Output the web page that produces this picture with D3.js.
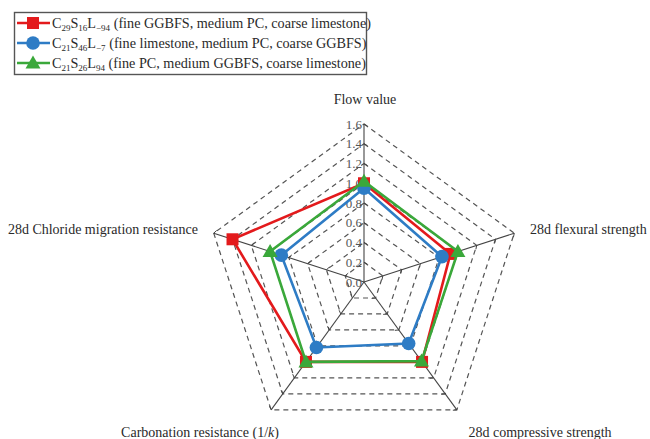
<!DOCTYPE html>
<html>
<head>
<meta charset="utf-8">
<script src="https://cdn.jsdelivr.net/npm/d3@7"></script>
<style>
  html, body { margin: 0; padding: 0; background: #fff; }
  svg { display: block; }
  text { font-family: "Liberation Serif", "DejaVu Serif", serif; }
</style>
</head>
<body>
<svg id="chart" width="650" height="439"></svg>
<script>
// Radar axes (clockwise from top)
const axes = [
  "Flow value",
  "28d flexural strength",
  "28d compressive strength",
  "Carbonation resistance (1/k)",
  "28d Chloride migration resistance"
];
const tickValues = [0, 0.2, 0.4, 0.6, 0.8, 1.0, 1.2, 1.4, 1.6];
const tickLabels = ["0.0", "0.2", "0.4", "0.6", "0.8", "1.0", "1.2", "1.4", "1.6"];

const seriesNames = ["C29S16L-94", "C21S46L-7", "C21S26L94"];
const seriesDesc = [
  " (fine GGBFS, medium PC, coarse limestone)",
  " (fine limestone, medium PC, coarse GGBFS)",
  " (fine PC, medium GGBFS, coarse limestone)"
];
const redValues   = [1.00, 0.92, 1.00, 1.00, 1.40];
const blueValues  = [0.95, 0.83, 0.77, 0.82, 0.88];
const greenValues = [1.02, 1.00, 0.99, 1.00, 1.00];
const seriesColors = ["#e31a1c", "#2e7cc5", "#3aa83a"];
const seriesMarkers = ["square", "circle", "triangle"];

const svg = d3.select("#chart");
const cx = 364, cy = 282, R = 158;
const r = d3.scaleLinear().domain([0, 1.6]).range([0, R]);
const angle = i => -Math.PI / 2 + i * 2 * Math.PI / axes.length;
const pt = (i, v) => [cx + r(v) * Math.cos(angle(i)), cy + r(v) * Math.sin(angle(i))];

// dashed grid pentagons
const grid = svg.append("g");
tickValues.slice(1).forEach(t => {
  grid.append("path")
    .attr("d", d3.line()(axes.map((_, i) => pt(i, t))) + "Z")
    .attr("fill", "none")
    .attr("stroke", "#555")
    .attr("stroke-width", 1.2)
    .attr("stroke-dasharray", "5,4");
});

// spokes with small ticks
const spokes = svg.append("g");
axes.forEach((_, i) => {
  const [x2, y2] = pt(i, 1.6);
  spokes.append("line")
    .attr("x1", cx).attr("y1", cy).attr("x2", x2).attr("y2", y2)
    .attr("stroke", "#444").attr("stroke-width", 1.1);
  const a = angle(i);
  const nx = -Math.sin(a), ny = Math.cos(a);
  tickValues.slice(1).forEach(t => {
    const [px, py] = pt(i, t);
    spokes.append("line")
      .attr("x1", px).attr("y1", py)
      .attr("x2", px + nx * 3.5 - Math.cos(a) * 2).attr("y2", py + ny * 3.5 - Math.sin(a) * 2)
      .attr("stroke", "#444").attr("stroke-width", 1);
  });
});

// radial tick labels on the top axis
svg.append("g").selectAll("text")
  .data(tickValues)
  .join("text")
  .attr("x", cx - 2)
  .attr("y", d => cy - r(d) + 4.5)
  .attr("text-anchor", "end")
  .attr("font-size", 13)
  .attr("fill", "#555")
  .text((d, i) => tickLabels[i]);

// axis titles
const titlePos = [
  { x: 365, y: 104, anchor: "middle" },
  { x: 530, y: 234, anchor: "start" },
  { x: 540, y: 437, anchor: "middle" },
  { x: 200, y: 437, anchor: "middle" },
  { x: 198, y: 234, anchor: "end" }
];
svg.append("g").selectAll("text")
  .data(axes)
  .join("text")
  .attr("x", (d, i) => titlePos[i].x)
  .attr("y", (d, i) => titlePos[i].y)
  .attr("text-anchor", (d, i) => titlePos[i].anchor)
  .attr("font-size", 14)
  .attr("fill", "#2a2a2a")
  .each(function (d) {
    const m = d.match(/^(.*\(1\/)(k)(\))$/);
    const sel = d3.select(this);
    if (m) {
      sel.append("tspan").text(m[1]);
      sel.append("tspan").attr("font-style", "italic").text(m[2]);
      sel.append("tspan").text(m[3]);
    } else sel.text(d);
  });

function drawMarker(g, type, x, y, color) {
  if (type === "square") {
    g.append("rect").attr("x", x - 6).attr("y", y - 6).attr("width", 12).attr("height", 12).attr("fill", color);
  } else if (type === "circle") {
    g.append("circle").attr("cx", x).attr("cy", y).attr("r", 6.8).attr("fill", color);
  } else {
    g.append("path").attr("d", `M${x},${y - 7.5}L${x + 7.5},${y + 5.5}L${x - 7.5},${y + 5.5}Z`).attr("fill", color);
  }
}

// series polygons
const allValues = [redValues, blueValues, greenValues];
allValues.forEach((vals, s) => {
  const g = svg.append("g");
  const pts = vals.map((v, i) => pt(i, v));
  g.append("path")
    .attr("d", d3.line()(pts) + "Z")
    .attr("fill", "none")
    .attr("stroke", seriesColors[s])
    .attr("stroke-width", 2.6)
    .attr("stroke-linejoin", "miter");
  pts.forEach(([x, y]) => drawMarker(g, seriesMarkers[s], x, y, seriesColors[s]));
});

// legend
const leg = svg.append("g");
leg.append("rect")
  .attr("x", 14.5).attr("y", 12.5).attr("width", 352).attr("height", 62)
  .attr("fill", "#fff").attr("stroke", "#555").attr("stroke-width", 1.4);
const rowY = [23, 43, 63];
seriesNames.forEach((name, s) => {
  const y = rowY[s];
  leg.append("line").attr("x1", 17).attr("x2", 50).attr("y1", y).attr("y2", y)
    .attr("stroke", seriesColors[s]).attr("stroke-width", 2.6);
  drawMarker(leg, seriesMarkers[s], 33, y, seriesColors[s]);
  const m = name.match(/^C(\d+)S(\d+)L(-?\d+)$/);
  const t = leg.append("text").attr("x", 52).attr("y", y + 5)
    .attr("font-size", 14.2).attr("fill", "#2a2a2a");
  const sub = (txt) => t.append("tspan").attr("font-size", 9).attr("dy", 3).text(txt);
  const up = (txt) => t.append("tspan").attr("dy", -3).text(txt);
  t.append("tspan").text("C");
  sub(m[1]);
  up("S");
  sub(m[2]);
  up("L");
  sub(m[3].replace("-", "\u2212"));
  up(seriesDesc[s]);
});
</script>
</body>
</html>
